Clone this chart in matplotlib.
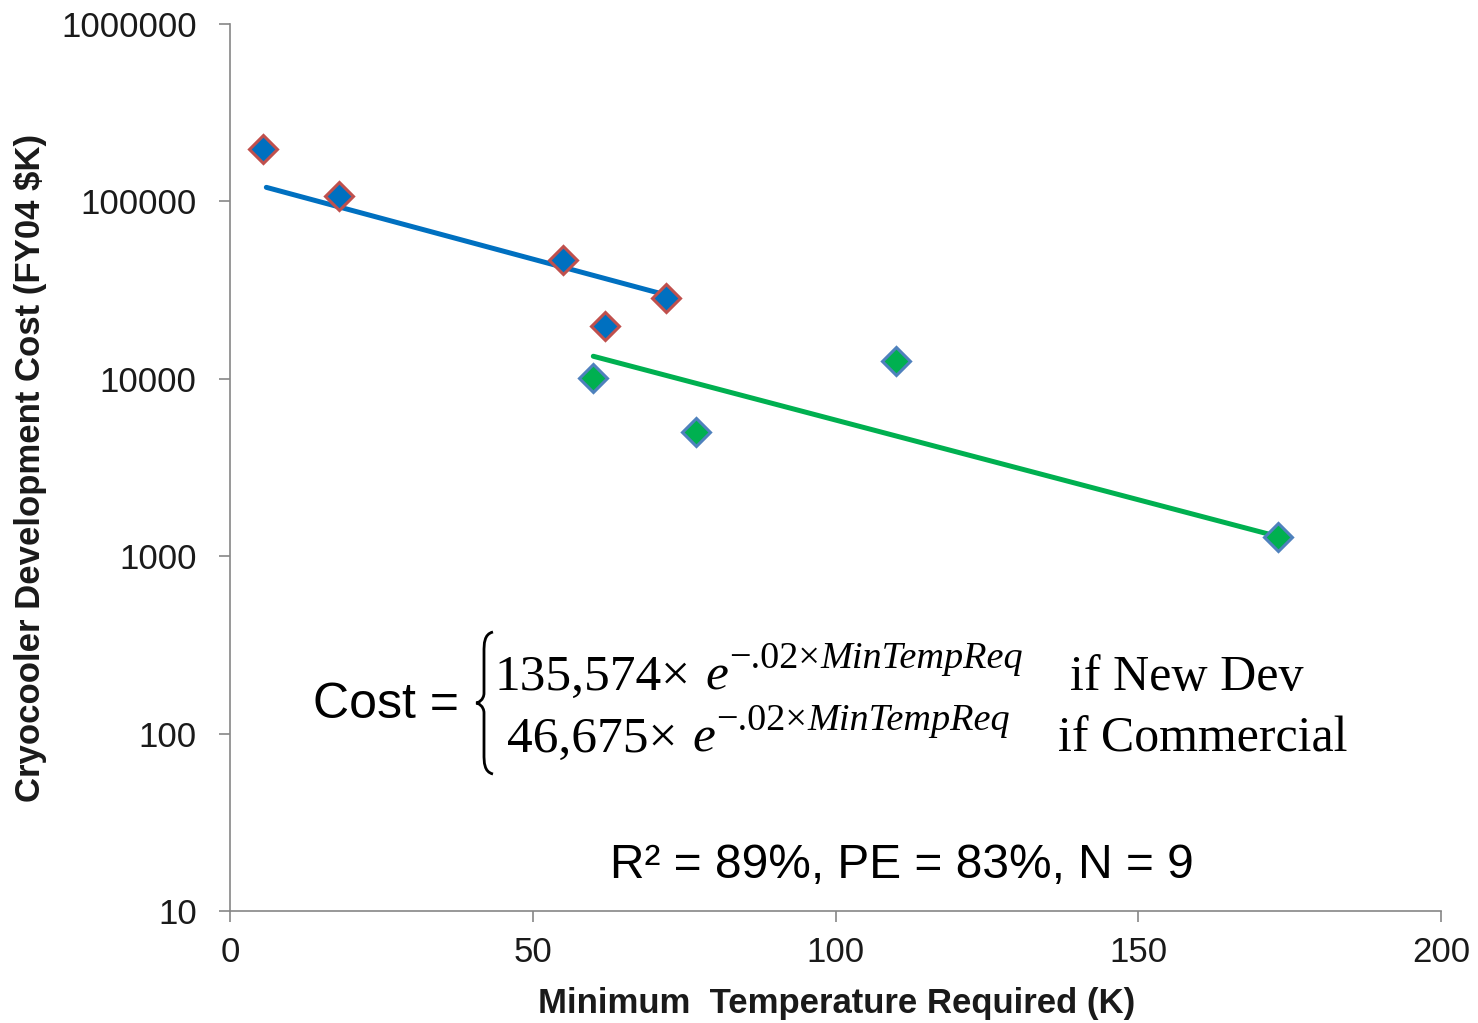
import matplotlib
matplotlib.use("Agg")
import matplotlib.pyplot as plt
from matplotlib.path import Path
from matplotlib.patches import PathPatch

# ---- data ----
new_dev_temp = [5.5, 18, 55, 62, 72]
new_dev_cost = [198000, 107000, 46700, 19900, 28500]
comm_temp = [60, 77, 110, 173]
comm_cost = [10100, 5000, 12600, 1280]
new_dev_fit_temp = [6, 72]
new_dev_fit_cost = [120000, 29700]
comm_fit_temp = [60, 172]
comm_fit_cost = [13400, 1320]
x_ticks = [0, 50, 100, 150, 200]
y_ticks = [10, 100, 1000, 10000, 100000, 1000000]
y_tick_labels = ["10", "100", "1000", "10000", "100000", "1000000"]

W, H = 1478, 1023
fig = plt.figure(figsize=(W / 100, H / 100), dpi=100)
ax = fig.add_axes([230 / W, 1 - 911 / H, (1441 - 230) / W, (911 - 24) / H])

SANS = "Liberation Sans"
SERIF = "Liberation Serif"

ax.plot(new_dev_fit_temp, new_dev_fit_cost, color="#0070C0", lw=3.6, solid_capstyle="round", zorder=2)
ax.plot(comm_fit_temp, comm_fit_cost, color="#00B050", lw=3.6, solid_capstyle="round", zorder=2)
ax.plot(new_dev_temp, new_dev_cost, ls="none", marker="D", ms=14, mfc="#0070C0",
        mec="#C0504D", mew=2.2, zorder=3)
ax.plot(comm_temp, comm_cost, ls="none", marker="D", ms=14, mfc="#00B050",
        mec="#4F81BD", mew=2.2, zorder=3)

ax.set_yscale("log")
ax.set_xlim(0, 200)
ax.set_ylim(10, 1000000)
ax.set_xticks(x_ticks)
ax.set_xticklabels([str(t) for t in x_ticks], fontfamily=SANS, fontsize=25, color="#1a1a1a")
ax.set_yticks(y_ticks)
ax.set_yticklabels(y_tick_labels, fontfamily=SANS, fontsize=25, color="#1a1a1a")
ax.yaxis.set_minor_locator(matplotlib.ticker.NullLocator())
for s in ["top", "right"]:
    ax.spines[s].set_visible(False)
for s in ["left", "bottom"]:
    ax.spines[s].set_color("#868686")
    ax.spines[s].set_linewidth(1.2)
ax.tick_params(axis="both", which="major", length=8, width=1.2, color="#868686")
ax.tick_params(axis="y", pad=16)
ax.tick_params(axis="x", pad=10)

fig.text(837 / W, 1 - 1004 / H, "Minimum  Temperature Required (K)", ha="center", va="center",
         fontfamily=SANS, fontweight="bold", fontsize=25, color="#1a1a1a")
fig.text(31 / W, 1 - 468 / H, "Cryocooler Development Cost (FY04 $K)", ha="center", va="center",
         rotation=90, fontfamily=SANS, fontweight="bold", fontsize=25, color="#1a1a1a")

def fx(px):
    return px / W

def fy(py):
    return 1 - py / H

# Equation
fig.text(fx(313), fy(718), "Cost =", fontfamily=SANS, fontsize=36, ha="left", va="baseline")
# brace
bx0, bx1 = 476, 490
top, mid, bot = 632, 703, 774
verts = [
    (fx(bx1 + 3), fy(top)),
    (fx(bx1 - 6), fy(top + 2)), (fx(bx1 - 6), fy(top + 12)), (fx(bx1 - 6), fy(top + 20)),
    (fx(bx1 - 6), fy(mid - 10)),
    (fx(bx1 - 6), fy(mid - 3)), (fx(bx0 + 2), fy(mid)), (fx(bx0), fy(mid)),
    (fx(bx0 + 2), fy(mid)), (fx(bx1 - 6), fy(mid + 3)), (fx(bx1 - 6), fy(mid + 10)),
    (fx(bx1 - 6), fy(bot - 20)),
    (fx(bx1 - 6), fy(bot - 12)), (fx(bx1 - 6), fy(bot - 2)), (fx(bx1 + 3), fy(bot)),
]
codes = [Path.MOVETO,
         Path.CURVE4, Path.CURVE4, Path.CURVE4,
         Path.LINETO,
         Path.CURVE4, Path.CURVE4, Path.CURVE4,
         Path.CURVE4, Path.CURVE4, Path.CURVE4,
         Path.LINETO,
         Path.CURVE4, Path.CURVE4, Path.CURVE4]
fig.patches.append(PathPatch(Path(verts, codes), transform=fig.transFigure, fill=False,
                             lw=2.0, color="black"))

renderer = fig.canvas.get_renderer()
eq_lines = [
    (495, 690, "135,574×", 705, 729, 668, "if New Dev", 1070),
    (507, 752, "46,675×", 692, 716, 730, "if Commercial", 1058),
]
for x0, base, coef, ex, expx, expb, cond, cx in eq_lines:
    fig.text(fx(x0), fy(base), coef, fontfamily=SERIF, fontsize=37, ha="left", va="baseline")
    fig.text(fx(ex), fy(base), "e", fontfamily=SERIF, style="italic", fontsize=37, ha="left", va="baseline")
    t1 = fig.text(fx(expx), fy(expb), "−.02×", fontfamily=SERIF, fontsize=27.5, ha="left", va="baseline")
    w1 = t1.get_window_extent(renderer=renderer).width
    fig.text(fx(expx + w1), fy(expb), "MinTempReq", fontfamily=SERIF, style="italic",
             fontsize=27.5, ha="left", va="baseline")
    fig.text(fx(cx), fy(base), cond, fontfamily=SERIF, fontsize=36, ha="left", va="baseline")

fig.text(fx(902), fy(878), "R² = 89%, PE = 83%, N = 9", fontfamily=SANS, fontsize=34.5,
         ha="center", va="baseline")

fig.savefig("out.png", dpi=100)
